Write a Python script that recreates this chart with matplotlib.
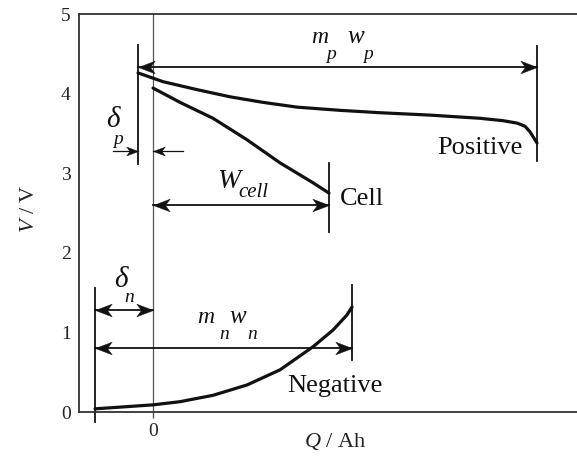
import numpy as np
import matplotlib
matplotlib.use("Agg")
import matplotlib.pyplot as plt
from matplotlib.path import Path

plt.rcParams['font.family'] = ['Liberation Serif', 'DejaVu Serif']
plt.rcParams['mathtext.fontset'] = 'custom'
plt.rcParams['mathtext.rm'] = 'Liberation Serif'
plt.rcParams['mathtext.it'] = 'Liberation Serif:italic'

# ------------ data (Q in arbitrary Ah, V in volts) ------------
pos_q = [-0.15, 0.10, 0.44, 0.77, 1.10, 1.44, 1.87, 2.27, 2.77, 3.27, 3.50, 3.64, 3.72, 3.77, 3.81, 3.84]
pos_v = [4.26, 4.15, 4.05, 3.96, 3.89, 3.83, 3.79, 3.76, 3.73, 3.69, 3.66, 3.63, 3.59, 3.52, 3.44, 3.38]

cell_q = [0.0, 0.27, 0.60, 0.94, 1.27, 1.60, 1.76]
cell_v = [4.07, 3.89, 3.69, 3.42, 3.13, 2.88, 2.75]

neg_q = [-0.58, 0.0, 0.27, 0.60, 0.94, 1.27, 1.60, 1.80, 1.94, 1.99]
neg_v = [0.04, 0.09, 0.13, 0.21, 0.34, 0.53, 0.82, 1.03, 1.22, 1.32]

# capacity markers
delta_p = -0.15
q_neg0 = -0.58
q_cell = 1.76
q_neg1 = 1.99
q_pos1 = 3.84

y_ticks = [0, 1, 2, 3, 4, 5]
x_ticks = [0]

# stealth style arrow heads (tip at origin)
head_r = Path([(0, 0), (-1, 0.38), (-0.72, 0), (-1, -0.38), (0, 0)],
              [Path.MOVETO, Path.LINETO, Path.LINETO, Path.LINETO, Path.CLOSEPOLY])
head_l = Path([(0, 0), (1, 0.38), (0.72, 0), (1, -0.38), (0, 0)],
              [Path.MOVETO, Path.LINETO, Path.LINETO, Path.LINETO, Path.CLOSEPOLY])

# ------------ figure ------------
fig = plt.figure(figsize=(5.77, 4.58), dpi=100)
ax = fig.add_axes([0.137, 0.1004, 0.863, 0.869])
ax.set_xlim(-0.74, 4.24)
ax.set_ylim(0, 5)

for s in ['left', 'top', 'bottom']:
    ax.spines[s].set_linewidth(1.3)
    ax.spines[s].set_color('#333333')
ax.spines['right'].set_visible(False)

ax.set_yticks(y_ticks)
ax.set_xticks(x_ticks)
ax.tick_params(axis='y', length=0, pad=6, labelsize=14, colors='#222222')
ax.tick_params(axis='x', length=4, width=1, pad=4, labelsize=14, colors='#555555', labelcolor='#222222')

ax.set_xlabel('$Q$ / Ah', fontsize=16, color='#222222')
ax.xaxis.set_label_coords(0.514, -0.048)
ax.set_ylabel('$V$ / V', fontsize=16, color='#222222')
ax.yaxis.set_label_coords(-0.08, 0.51)

# thin line at Q = 0
ax.plot([0, 0], [0, 5], color='#555555', lw=0.9)

# curves
ax.plot(pos_q, pos_v, color='#111111', lw=2.3, solid_capstyle='round')
ax.plot(cell_q, cell_v, color='#111111', lw=2.3, solid_capstyle='round')
ax.plot(neg_q, neg_v, color='#111111', lw=2.3, solid_capstyle='round')

# vertical marker bars
bar_kw = dict(color='#111111', lw=1.3, clip_on=False)
ax.plot([delta_p, delta_p], [3.12, 4.61], **bar_kw)
ax.plot([q_pos1, q_pos1], [3.15, 4.60], **bar_kw)
ax.plot([q_cell, q_cell], [2.26, 3.13], **bar_kw)
ax.plot([q_neg0, q_neg0], [-0.13, 1.56], **bar_kw)
ax.plot([q_neg1, q_neg1], [0.65, 1.60], **bar_kw)


def arrow(x0, x1, y, both=True, lw=1.3, ms=24):
    ax.plot([x0, x1], [y, y], color='#111111', lw=lw)
    tip = head_r if x1 > x0 else head_l
    ax.plot([x1], [y], marker=tip, ms=ms, color='#111111', mew=0.3, ls='none')
    if both:
        back = head_l if x1 > x0 else head_r
        ax.plot([x0], [y], marker=back, ms=ms, color='#111111', mew=0.3, ls='none')


arrow(delta_p, q_pos1, 4.33)
arrow(0, q_cell, 2.60)
arrow(q_neg0, 0, 1.28)
arrow(q_neg0, q_neg1, 0.80)
arrow(-0.40, delta_p, 3.28, both=False, lw=0.9, ms=17)
arrow(0.30, 0, 3.28, both=False, lw=0.9, ms=17)

# labels
it = dict(style='italic', color='#111111')
ax.text(1.67, 4.64, 'm', fontsize=17, ha='center', va='baseline', **it)
ax.text(1.78, 4.44, 'p', fontsize=14, ha='center', va='baseline', **it)
ax.text(2.03, 4.64, 'w', fontsize=18, ha='center', va='baseline', **it)
ax.text(2.15, 4.44, 'p', fontsize=14, ha='center', va='baseline', **it)

ax.text(0.53, 1.12, 'm', fontsize=17, ha='center', va='baseline', **it)
ax.text(0.71, 0.92, 'n', fontsize=14, ha='center', va='baseline', **it)
ax.text(0.85, 1.12, 'w', fontsize=18, ha='center', va='baseline', **it)
ax.text(0.99, 0.92, 'n', fontsize=14, ha='center', va='baseline', **it)

ax.text(-0.40, 3.58, 'δ', fontsize=21, ha='center', va='baseline', **it)
ax.text(-0.35, 3.37, 'p', fontsize=14, ha='center', va='baseline', **it)
ax.text(-0.32, 1.57, 'δ', fontsize=21, ha='center', va='baseline', **it)
ax.text(-0.24, 1.38, 'n', fontsize=14, ha='center', va='baseline', **it)

ax.text(0.76, 2.82, 'W', fontsize=20, ha='center', va='baseline', **it)
ax.text(1.00, 2.70, 'cell', fontsize=15, ha='center', va='baseline', **it)

ax.text(1.87, 2.60, 'Cell', fontsize=19, ha='left', va='baseline', color='#111111')
ax.text(3.70, 3.24, 'Positive', fontsize=19, ha='right', va='baseline', color='#111111')
ax.text(1.34, 0.25, 'Negative', fontsize=19, ha='left', va='baseline', color='#111111')

fig.savefig('out.png', dpi=100)
